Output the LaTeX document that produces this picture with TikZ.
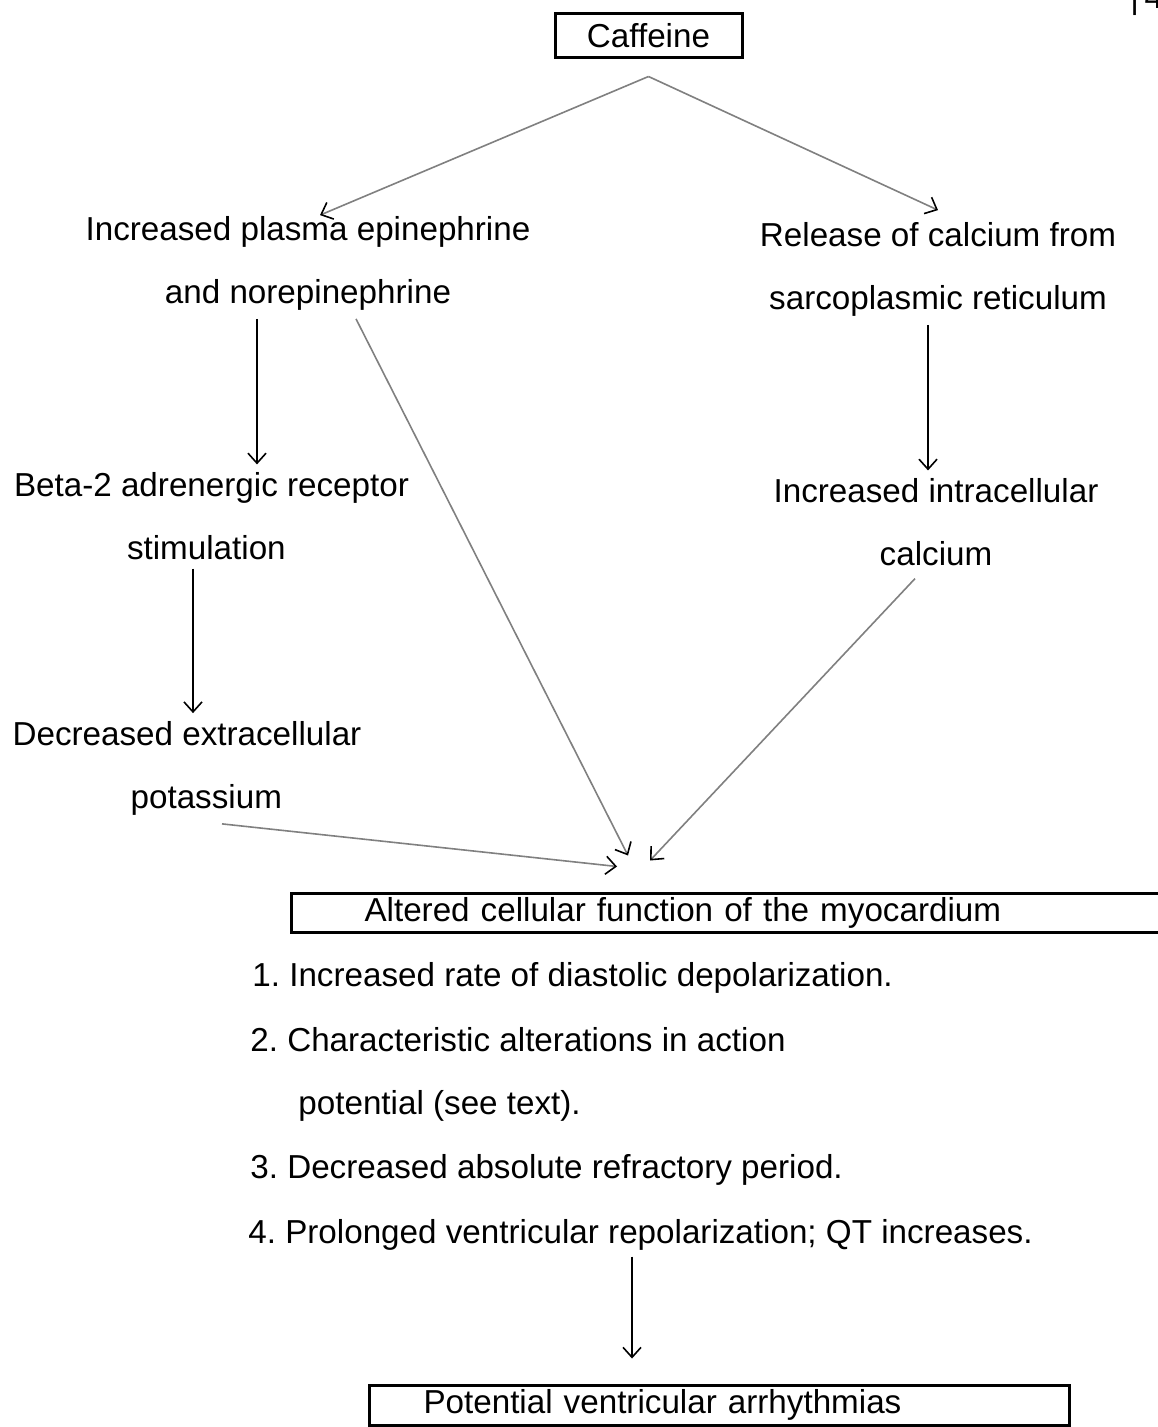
\documentclass[tikz,border=0pt]{standalone}
\usepackage{fontspec}
\setmainfont{Liberation Sans}
\usetikzlibrary{arrows.meta,calc}
\begin{document}
\frenchspacing
\begin{tikzpicture}[x=0.5pt,y=-0.5pt,
  txt/.style={font=\fontsize{16.6}{31.5}\selectfont, inner sep=0pt, align=center},
  ltxt/.style={font=\fontsize{16.6}{31.5}\selectfont, inner sep=0pt, align=left},
  itemtxt/.style={font=\fontsize{16.6}{31.5}\selectfont, inner sep=0pt, align=left, anchor=west},
  boxed/.style={draw, line width=1.5pt, font=\fontsize{16.6}{20}\selectfont, inner ysep=0pt},
  arr/.style={line width=0.8pt, -{Straight Barb[length=5pt,width=9pt]}},
  faint/.style={draw=black!50, line width=0.8pt, -{Straight Barb[length=5pt,width=9pt,color=black]}}
]
\useasboundingbox (0,0) rectangle (1157,1427);
\fill[white] (0,0) rectangle (1157,1427);

% page number fragment
\node[txt, anchor=base west] (pg) at (1130,9) {|\,4};

\node[boxed, minimum width=93.5pt, minimum height=22pt] (caf) at (648.5,36) {Caffeine};

\node[txt] (epi) at (308,263.5) {Increased plasma epinephrine\\and norepinephrine};
\node[txt] (rel) at (938,269.5) {Release of calcium from\\sarcoplasmic reticulum};
\node[ltxt] (beta) at (211.5,516.5) {Beta-2 adrenergic receptor\\\hspace*{56.5pt}stimulation};
\node[txt] (ica) at (936,522.5) {Increased intracellular\\calcium};
\node[ltxt] (dek) at (187,768.5) {Decreased extracellular\\\hspace*{59pt}potassium};

\node[boxed, anchor=west, text width=369.5pt, align=left, inner xsep=36.5pt,
      minimum height=19.5pt] (alt) at (290,912.5) {Altered cellular function of the myocardium};

\node[itemtxt] (l1) at (252,978) {1. Increased rate of diastolic depolarization.};
\node[itemtxt] (l2) at (250,1074) {2. Characteristic alterations in action\\\hspace*{24pt}potential (see text).};
\node[itemtxt] (l3) at (250,1170) {3. Decreased absolute refractory period.};
\node[itemtxt] (l4) at (248,1235) {4. Prolonged ventricular repolarization; QT increases.};

\node[boxed, anchor=west, text width=296pt, align=left, inner xsep=27pt,
      minimum height=20pt] (pot) at (368,1405) {Potential ventricular arrhythmias};

% connectors
\draw[faint] ($(caf.south)+(0,17)$) -- ($(epi.north)+(12,-1)$);
\draw[faint] ($(caf.south)+(0,17)$) -- ($(rel.north)+(0,-12)$);
\draw[arr] ($(epi.south)+(-51,8)$) -- ($(beta.north)+(45.5,-8)$);
\draw[arr] ($(rel.south)+(-10,8)$) -- ($(ica.north)+(-8,-8)$);
\draw[arr] ($(beta.south)+(-18.5,8)$) -- ($(dek.north)+(6,-8)$);
\draw[faint] ($(dek.south)+(35,8)$) -- ($(alt.north west)+(327,-25)$);
\draw[faint] ($(epi.south)+(48,8)$) -- ($(alt.north west)+(338,-36)$);
\draw[faint] ($(ica.south)+(-21,12)$) -- ($(alt.north west)+(360,-31)$);
\draw[arr] ($(pot.north west)+(264,-127)$) -- ($(pot.north west)+(264,-25)$);
\end{tikzpicture}
\end{document}
